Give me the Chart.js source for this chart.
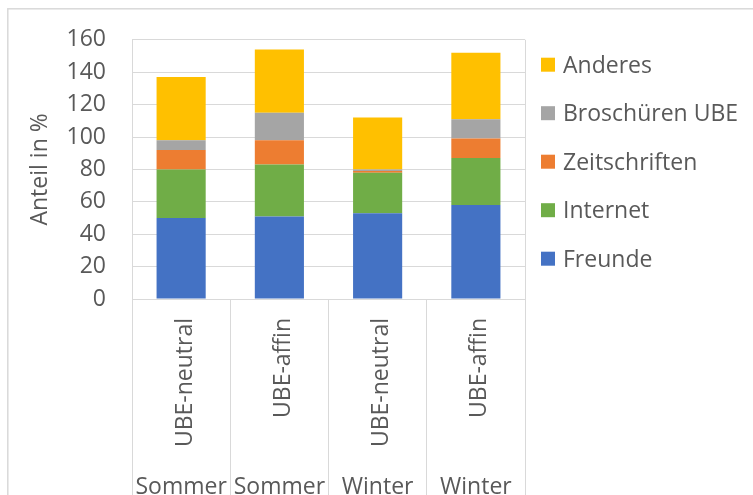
<!DOCTYPE html>
<html>
<head>
<meta charset="utf-8">
<script src="https://cdn.jsdelivr.net/npm/chart.js@4"></script>
<style>
  html, body { margin: 0; padding: 0; background: #fff; overflow: hidden; }
  canvas { display: block; }
</style>
</head>
<body>
<canvas id="chart" width="753" height="495"></canvas>
<script>
// Anteil der Informationsquellen (in %), je Gruppe
const groups = ['UBE-neutral', 'UBE-affin', 'UBE-neutral', 'UBE-affin'];
const seasons = ['Sommer', 'Sommer', 'Winter', 'Winter'];
const freunde = [50, 51, 53, 58];
const internet = [30, 32, 25, 29];
const zeitschriften = [12, 15, 1, 12];
const broschueren = [6, 17, 1, 12];
const anderes = [39, 39, 32, 41];
const yTicks = [0, 20, 40, 60, 80, 100, 120, 140, 160];

const FONT = '"Open Sans", "DejaVu Sans", sans-serif';
const TEXT = '#595959';
const GRID = '#d9d9d9';

// frame around the chart (only top/left visible in the crop)
const framePlugin = {
    id: 'frame',
    beforeDraw(chart) {
        const ctx = chart.ctx;
        ctx.save();
        ctx.fillStyle = '#fff';
        ctx.fillRect(0, 0, chart.width, chart.height);
        ctx.strokeStyle = GRID;
        ctx.lineWidth = 1.5;
        ctx.strokeRect(7.8, 8.8, 900, 700);
        ctx.restore();
    }
};

// two-level category labels under the x axis
const groupLabels = {
    id: 'groupLabels',
    afterDraw(chart) {
        const ctx = chart.ctx;
        const x = chart.scales.x;
        ctx.save();
        ctx.fillStyle = TEXT;
        ctx.font = '23px ' + FONT;
        groups.forEach((g, i) => {
            const cx = x.getPixelForValue(i);
            ctx.save();
            ctx.translate(cx + 10.5, 318);
            ctx.rotate(-Math.PI / 2);
            ctx.textAlign = 'right';
            ctx.textBaseline = 'alphabetic';
            ctx.fillText(g, 0, 0);
            ctx.restore();

            ctx.textAlign = 'center';
            ctx.textBaseline = 'alphabetic';
            ctx.fillText(seasons[i], cx, 493.5);
        });
        ctx.restore();
    }
};

// legend on the right, top entry = last dataset
const sideLegend = {
    id: 'sideLegend',
    afterDraw(chart) {
        const ctx = chart.ctx;
        const items = chart.data.datasets.slice().reverse();
        ctx.save();
        ctx.font = '23px ' + FONT;
        ctx.textAlign = 'left';
        ctx.textBaseline = 'alphabetic';
        items.forEach((ds, i) => {
            const yc = 64.7 + i * 48.5;
            ctx.fillStyle = ds.backgroundColor;
            ctx.fillRect(541, yc - 7, 14, 14);
            ctx.fillStyle = TEXT;
            ctx.fillText(ds.label, 563, yc + 8.2);
        });
        ctx.restore();
    }
};

new Chart(document.getElementById('chart').getContext('2d'), {
    type: 'bar',
    data: {
        labels: groups,
        datasets: [
            { label: 'Freunde', data: freunde, backgroundColor: '#4472c4' },
            { label: 'Internet', data: internet, backgroundColor: '#70ad47' },
            { label: 'Zeitschriften', data: zeitschriften, backgroundColor: '#ed7d31' },
            { label: 'Broschüren UBE', data: broschueren, backgroundColor: '#a5a5a5' },
            { label: 'Anderes', data: anderes, backgroundColor: '#ffc000' }
        ]
    },
    options: {
        responsive: false,
        animation: false,
        devicePixelRatio: 1,
        layout: { padding: { top: 39, left: 27, right: 228, bottom: 0 } },
        datasets: { bar: { barPercentage: 0.5, categoryPercentage: 1, borderWidth: 0 } },
        plugins: { legend: { display: false }, tooltip: { enabled: false } },
        scales: {
            x: {
                stacked: true,
                ticks: { display: false },
                grid: {
                    offset: true,
                    drawOnChartArea: true,
                    color: c => (c.type !== 'tick' || c.index === 0) ? GRID : 'rgba(0,0,0,0)',
                    tickColor: GRID,
                    tickLength: 196
                },
                border: { color: GRID },
                afterFit: s => { s.height = 196; }
            },
            y: {
                stacked: true,
                min: 0,
                max: 160,
                afterBuildTicks: s => { s.ticks = yTicks.map(v => ({ value: v })); },
                ticks: { font: { family: FONT, size: 23 }, color: TEXT, padding: 26 },
                grid: { color: GRID, drawTicks: false },
                border: { display: false },
                title: { display: true, text: 'Anteil in %', font: { family: FONT, size: 23 }, color: TEXT, padding: 0 },
                afterFit: s => { s.width = 105; }
            }
        }
    },
    plugins: [framePlugin, groupLabels, sideLegend]
});
</script>
</body>
</html>
